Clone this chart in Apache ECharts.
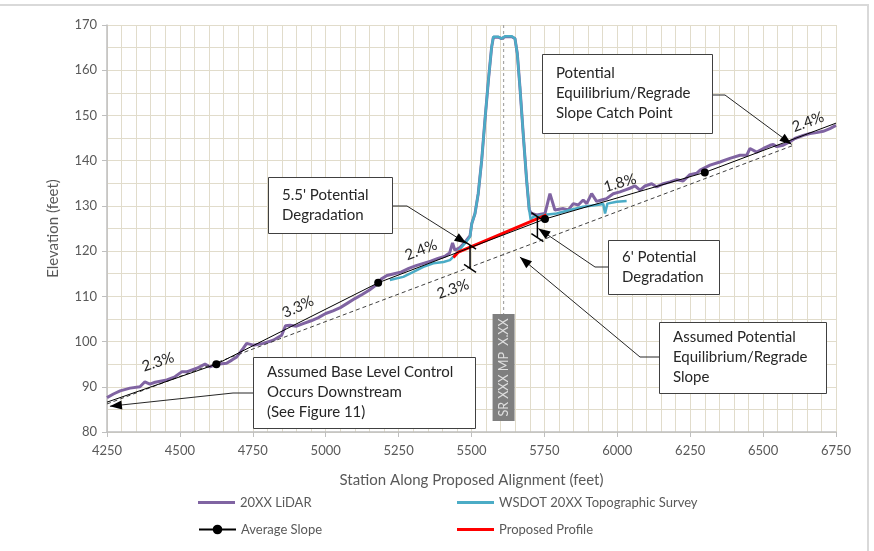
<!DOCTYPE html>
<html><head><meta charset="utf-8">
<script src="https://cdn.jsdelivr.net/npm/echarts@6/dist/echarts.min.js"></script>
<style>html,body{margin:0;padding:0;background:#fff}#c{width:874px;height:551px}</style>
</head><body><div id="c"></div>
<script>
// ---- data (station ft, elevation ft) ----
const lidar = [
[4250,87.6],[4272,88.4],[4295,89.1],[4329,89.7],[4363,90.0],[4380,91.1],[4397,90.6],[4415,91.0],[4455,91.5],[4483,92.2],
[4506,93.3],[4523,93.3],[4558,94.1],[4586,95.0],[4603,94.4],[4626,95.0],[4660,95.2],[4678,95.9],[4695,96.6],[4717,98.5],
[4729,99.6],[4752,99.2],[4786,99.6],[4820,100.3],[4849,101.4],[4862,103.5],[4878,103.6],[4900,103.4],[4925,104.0],[4950,104.6],
[4975,105.3],[5000,106.2],[5025,106.8],[5050,107.5],[5075,108.5],[5100,109.5],[5125,110.4],[5150,111.4],[5175,112.6],[5190,113.8],
[5210,114.6],[5235,115.0],[5260,115.4],[5285,116.2],[5310,116.8],[5335,117.3],[5360,117.8],[5385,118.4],[5410,118.9],[5425,119.6],
[5435,121.8],[5443,120.2],[5460,120.8],[5477,121.9],[5495,123.4],[5501,126.1],[5512,128.3],[5523,132.7],[5535,140.1],[5546,148.9],
[5558,157.8],[5569,165.1],[5575,167.3],[5592,167.3],[5603,167.0],[5615,167.4],[5638,167.4],[5649,167.0],[5657,163.7],[5666,156.3],
[5678,145.3],[5689,135.7],[5698,129.1],[5706,128.3],[5724,128.0],[5752,128.3],[5769,132.7],[5786,129.1],[5815,129.4],[5832,129.1],
[5849,130.5],[5866,130.2],[5883,131.3],[5895,130.5],[5912,132.7],[5929,131.0],[5946,131.3],[5963,131.6],[5986,132.7],[6009,133.1],
[6026,133.5],[6043,133.9],[6061,134.4],[6078,133.5],[6095,134.4],[6118,134.9],[6135,134.2],[6158,134.9],[6181,135.3],[6204,135.8],
[6226,135.5],[6249,136.9],[6272,137.2],[6284,137.9],[6318,139.0],[6352,139.7],[6386,140.5],[6421,141.2],[6444,141.2],[6455,142.7],
[6478,141.9],[6501,142.7],[6524,143.4],[6535,143.6],[6547,143.1],[6569,143.4],[6592,144.2],[6609,144.9],[6638,145.6],[6661,146.0],
[6683,146.2],[6706,146.5],[6729,147.1],[6750,147.8]
];
const survey = [
[5220,113.6],[5266,114.3],[5301,115.4],[5335,116.5],[5369,117.3],[5404,117.6],[5426,118.0],[5443,119.1],[5460,120.4],[5477,121.7],
[5495,123.2],[5501,126.1],[5512,128.3],[5523,132.7],[5535,140.1],[5546,148.9],[5558,157.8],[5569,165.1],[5575,167.4],[5592,167.4],
[5603,167.0],[5615,167.5],[5638,167.5],[5649,167.0],[5657,163.7],[5666,156.3],[5678,145.3],[5689,135.7],[5698,129.1],[5703,126.9],
[5712,127.6],[5746,128.0],[5792,128.3],[5838,129.1],[5883,129.8],[5929,130.2],[5952,130.4],[5958,128.3],[5966,130.5],[5998,130.9],
[6032,131.1]
];
const proposed = [[5438,118.6],[5455,119.8],[5757,128.0]];
const averageSlope = [[4250,86.6],[4625,95.0],[5180,113.0],[5752,127.1],[6300,137.4],[6750,148.3]];
const equilibrium = [[4250,86.2],[6600,143.3]];
const milepostLine = [[5610,170],[5610,106]];
const degradation = [{x:5495, top:121.3, bottom:116.2},{x:5726, top:127.6, bottom:123.0}];
const seriesNames = ['20XX LiDAR','WSDOT 20XX Topographic Survey','Average Slope','Proposed Profile'];
const slopeLabels = [
  {text:'2.3%', px:158, py:362, deg:18.6},
  {text:'3.3%', px:298, py:307, deg:25},
  {text:'2.4%', px:421, py:250, deg:21},
  {text:'2.3%', px:453, py:289, deg:19},
  {text:'1.8%', px:620, py:183, deg:16.4},
  {text:'2.4%', px:808, py:122, deg:20}
];
const notes = [
  {lines:["5.5' Potential","Degradation"], box:[268,177,124,56], from:[392,206], elbow:[407,206], tip:[5483,121.7]},
  {lines:["6' Potential","Degradation"], box:[608,240,111,54], from:[608,267], elbow:[595,267], tip:[5729,125.0]},
  {lines:["Potential","Equilibrium/Regrade","Slope Catch Point"], box:[542,54,170,79], from:[712,95], elbow:[725,95], tip:[6598,143.6]},
  {lines:["Assumed Potential","Equilibrium/Regrade","Slope"], box:[659,322,167,71], from:[659,357], elbow:[640,357], tip:[5666,118.7]},
  {lines:["Assumed Base Level Control","Occurs Downstream","(See Figure 11)"], box:[253,357,222,71], from:[253,393], elbow:[233,393], tip:[4260,85.7]}
];

const FONT = 'Lato, "Open Sans", sans-serif';
const chart = echarts.init(document.getElementById('c'), null, {renderer:'canvas'});
const gridCol = '#e1dccb';
const axisCol = '#bfbfbf';
const legTxt = {color:'#595959', fontSize:13, fontFamily:FONT};
function leg(name, left, top, lineIcon){
  const o = {data:[name], left:left, top:top, padding:0, itemWidth:37, itemHeight:lineIcon?3:12, textStyle:legTxt};
  if(lineIcon) o.icon = 'rect';
  return o;
}

chart.setOption({
  animation:false,
  backgroundColor:'#fff',
  textStyle:{fontFamily:FONT},
  grid:{left:107, right:38, top:25, bottom:119},
  legend:[
    leg(seriesNames[0], 198, 496, true),
    leg(seriesNames[2], 198, 523, false),
    leg(seriesNames[1], 457, 496, true),
    leg(seriesNames[3], 457, 523, true)
  ],
  xAxis:{type:'value', min:4250, max:6750, interval:250,
    name:'Station Along Proposed Alignment (feet)', nameLocation:'middle', nameGap:41,
    nameTextStyle:{color:'#595959', fontSize:15, fontFamily:FONT},
    axisLine:{show:true, lineStyle:{color:axisCol, width:1.5}},
    axisTick:{show:true, length:5, lineStyle:{color:axisCol}},
    axisLabel:{color:'#595959', fontSize:13, margin:12, fontFamily:FONT, formatter:v=>String(v)},
    splitLine:{show:true, lineStyle:{color:gridCol, width:1}},
    minorTick:{show:false, splitNumber:5},
    minorSplitLine:{show:true, lineStyle:{color:gridCol, width:1}}
  },
  yAxis:{type:'value', min:80, max:170, interval:10,
    name:'Elevation (feet)', nameLocation:'middle', nameGap:46,
    nameTextStyle:{color:'#595959', fontSize:15, fontFamily:FONT},
    axisLine:{show:true, lineStyle:{color:axisCol, width:1.5}},
    axisTick:{show:true, length:5, lineStyle:{color:axisCol}},
    axisLabel:{color:'#595959', fontSize:13, margin:10, fontFamily:FONT, formatter:v=>String(v)},
    splitLine:{show:true, lineStyle:{color:gridCol, width:1}},
    minorTick:{show:false, splitNumber:2},
    minorSplitLine:{show:true, lineStyle:{color:gridCol, width:1}}
  },
  series:[
    {name:'mp', type:'line', data:milepostLine, symbol:'none', silent:true,
     lineStyle:{color:'#a6a6a6', width:1.2, type:[3,3]}, z:1},
    {name:seriesNames[0], type:'line', data:lidar, symbol:'none', color:'#8064a2',
     lineStyle:{color:'#8064a2', width:3}, z:2},
    {name:seriesNames[1], type:'line', data:survey, symbol:'none', color:'#4bacc6',
     lineStyle:{color:'#4bacc6', width:2.5}, z:3},
    {name:seriesNames[3], type:'line', data:proposed, symbol:'none', color:'#ff0000',
     lineStyle:{color:'#ff0000', width:3}, z:4},
    {name:'eq', type:'line', data:equilibrium, symbol:'none', silent:true,
     lineStyle:{color:'#404040', width:1, type:[4,3]}, z:5},
    {name:seriesNames[2], type:'line', color:'#000',
     data:averageSlope.map((p,i)=>({value:p, symbolSize:(i===0||i===averageSlope.length-1)?0:8})),
     symbol:'circle', symbolSize:8, showAllSymbol:true,
     itemStyle:{color:'#000'}, lineStyle:{color:'#000', width:1}, z:6}
  ]
});

function px(p){ return chart.convertToPixel({gridIndex:0}, p); }
function arrowHead(tip, prev, L, W){
  const dx = tip[0]-prev[0], dy = tip[1]-prev[1];
  const len = Math.hypot(dx,dy); const ux = dx/len, uy = dy/len;
  const bx = tip[0]-ux*L, by = tip[1]-uy*L;
  return [[tip[0],tip[1]],[bx-uy*W, by+ux*W],[bx+uy*W, by-ux*W]];
}
const g = [];
g.push({type:'rect', shape:{x:-1, y:5, width:869, height:560}, style:{fill:'none', stroke:'#d9d9d9', lineWidth:2}, silent:true, z:0});
const mp = px(milepostLine[0]);
g.push({type:'rect', shape:{x:mp[0]-11, y:314, width:22, height:107}, style:{fill:'#7f7f7f'}, silent:true, z:50});
g.push({type:'text', x:mp[0], y:367.5, rotation:Math.PI/2,
  style:{text:'SR XXX MP  X.XX', fill:'#e0e0e0', fontSize:12.5, fontFamily:FONT, align:'center', verticalAlign:'middle'}, silent:true, z:51});
degradation.forEach(d=>{
  const t = px([d.x,d.top]), b = px([d.x,d.bottom]);
  g.push({type:'line', shape:{x1:t[0],y1:t[1],x2:b[0],y2:b[1]}, style:{stroke:'#000', lineWidth:1.5}, silent:true, z:60});
  [t,b].forEach(p=>g.push({type:'line', shape:{x1:p[0]-6,y1:p[1]-4,x2:p[0]+6,y2:p[1]+4}, style:{stroke:'#000', lineWidth:1.5}, silent:true, z:60}));
});
slopeLabels.forEach(s=>g.push({type:'text', x:s.px, y:s.py, rotation:s.deg*Math.PI/180,
  style:{text:s.text, fill:'#262626', fontSize:15, fontFamily:FONT, align:'center', verticalAlign:'middle'}, silent:true, z:55}));
notes.forEach(n=>{
  const [bx,by,bw,bh] = n.box;
  g.push({type:'rect', shape:{x:bx+0.5, y:by+0.5, width:bw, height:bh}, style:{fill:'#fff', stroke:'#404040', lineWidth:1}, silent:true, z:70});
  g.push({type:'text', x:bx+14, y:by+(bh-n.lines.length*20)/2,
    style:{text:n.lines.join('\n'), fill:'#262626', fontSize:15, lineHeight:20, fontFamily:FONT, align:'left', verticalAlign:'top'}, silent:true, z:71});
  const tip = px(n.tip);
  g.push({type:'polyline', shape:{points:[n.from, n.elbow, tip]}, style:{stroke:'#262626', lineWidth:1, fill:'none'}, silent:true, z:69});
  g.push({type:'polygon', shape:{points:arrowHead(tip, n.elbow, 12, 4.5)}, style:{fill:'#000'}, silent:true, z:69});
});
chart.setOption({graphic:g});
</script></body></html>
